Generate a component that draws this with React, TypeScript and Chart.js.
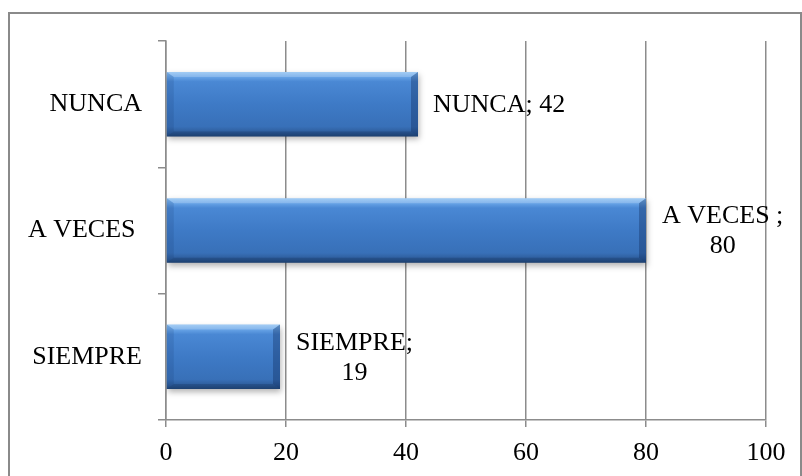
import React, { useEffect, useRef } from "react";
import { Chart, registerables } from "chart.js";

Chart.register(...registerables);

const CATEGORIES = ["NUNCA", "A VECES ", "SIEMPRE"];
const VALUES = [42, 80, 19];
const X_MIN = 0;
const X_MAX = 100;
const X_STEP = 20;

const FONT_FAMILY = "'Liberation Serif', 'Times New Roman', Times, serif";
const FONT_SIZE = 26;
const BAR_PCT = 0.51;
const GRID = "#8c8c8c";

function wrapText(ctx: CanvasRenderingContext2D, text: string, maxW: number): string[] {
  const words = text.split(" ");
  const lines: string[] = [];
  let cur = "";
  for (const w of words) {
    const test = cur ? cur + " " + w : w;
    if (cur && ctx.measureText(test).width > maxW) {
      lines.push(cur);
      cur = w;
    } else cur = test;
  }
  if (cur) lines.push(cur);
  return lines;
}

const bevelPlugin = {
  id: "bevel",
  beforeDatasetsDraw(chart: any) {
    const ctx = chart.ctx;
    ctx.save();
    ctx.shadowColor = "rgba(0,0,0,0.3)";
    ctx.shadowBlur = 6;
    ctx.shadowOffsetX = 1;
    ctx.shadowOffsetY = 3;
  },
  afterDatasetsDraw(chart: any) {
    const ctx = chart.ctx;
    ctx.restore();
    const meta = chart.getDatasetMeta(0);
    meta.data.forEach((bar: any, i: number) => {
      const x = bar.x;
      const base = bar.base;
      const y0 = bar.y - bar.height / 2;
      const y1 = bar.y + bar.height / 2;
      const b = 7;
      const d = 5;
      ctx.save();
      // top bevel
      ctx.beginPath();
      ctx.moveTo(base, y0);
      ctx.lineTo(x, y0);
      ctx.lineTo(x - b, y0 + d);
      ctx.lineTo(base + b, y0 + d);
      ctx.closePath();
      ctx.fillStyle = "rgba(255,255,255,0.2)";
      ctx.fill();
      // bottom bevel
      ctx.beginPath();
      ctx.moveTo(base, y1);
      ctx.lineTo(x, y1);
      ctx.lineTo(x - b, y1 - d);
      ctx.lineTo(base + b, y1 - d);
      ctx.closePath();
      ctx.fillStyle = "rgba(10,30,70,0.22)";
      ctx.fill();
      // right bevel
      ctx.beginPath();
      ctx.moveTo(x, y0);
      ctx.lineTo(x, y1);
      ctx.lineTo(x - b, y1 - d);
      ctx.lineTo(x - b, y0 + d);
      ctx.closePath();
      ctx.fillStyle = "rgba(10,35,80,0.32)";
      ctx.fill();
      // left bevel
      ctx.beginPath();
      ctx.moveTo(base, y0);
      ctx.lineTo(base, y1);
      ctx.lineTo(base + b, y1 - d);
      ctx.lineTo(base + b, y0 + d);
      ctx.closePath();
      ctx.fillStyle = "rgba(10,35,80,0.12)";
      ctx.fill();
      ctx.restore();

      // data label
      ctx.save();
      ctx.font = `${FONT_SIZE}px ${FONT_FAMILY}`;
      ctx.fillStyle = "#000";
      ctx.textBaseline = "middle";
      const text = `${CATEGORIES[i]}; ${VALUES[i]}`;
      const lines = wrapText(ctx, text, 140);
      const lh = 30;
      if (lines.length === 1) {
        ctx.textAlign = "left";
        ctx.fillText(lines[0], x + 15, bar.y + 1);
      } else {
        const bw = Math.max(...lines.map((l) => ctx.measureText(l).width));
        const cx = x + 16 + bw / 2;
        ctx.textAlign = "center";
        const startY = bar.y + 1 - ((lines.length - 1) * lh) / 2;
        lines.forEach((l, k) => ctx.fillText(l, cx, startY + k * lh));
      }
      ctx.restore();
    });
  },
};

export default function App() {
  const ref = useRef<HTMLCanvasElement | null>(null);
  useEffect(() => {
    if (!ref.current) return;
    const chart = new Chart(ref.current, {
      type: "bar",
      data: {
        labels: CATEGORIES,
        datasets: [
          {
            data: VALUES,
            backgroundColor: (c: any) => {
              const chart = c.chart;
              const sy = chart.scales && chart.scales.y;
              if (!sy || !chart.chartArea || c.dataIndex === undefined) return "#3d78c4";
              const yc = sy.getPixelForValue(c.dataIndex);
              const half = (sy.height / CATEGORIES.length) * BAR_PCT / 2;
              const g = chart.ctx.createLinearGradient(0, yc - half, 0, yc + half);
              g.addColorStop(0, "#8cc0f2");
              g.addColorStop(0.07, "#6aa6e8");
              g.addColorStop(0.15, "#4a88d4");
              g.addColorStop(0.5, "#3e7ac6");
              g.addColorStop(0.85, "#3870b8");
              g.addColorStop(0.94, "#2d5c9a");
              g.addColorStop(1, "#234a7c");
              return g;
            },
            borderWidth: 0,
            barPercentage: BAR_PCT,
            categoryPercentage: 1,
          },
        ],
      },
      options: {
        indexAxis: "y",
        animation: false,
        responsive: false,
        maintainAspectRatio: false,
        layout: { padding: { left: 0, top: 41, right: 36, bottom: 0 } },
        plugins: { legend: { display: false }, tooltip: { enabled: false } },
        scales: {
          x: {
            min: X_MIN,
            max: X_MAX,
            ticks: {
              stepSize: X_STEP,
              color: "#000",
              font: { family: FONT_FAMILY, size: FONT_SIZE },
              padding: 11,
            },
            grid: { color: GRID, lineWidth: 1.5, tickLength: 7, drawOnChartArea: true },
            border: { color: GRID, width: 1.5 },
            afterFit: (s: any) => {
              s.height = 56;
            },
          },
          y: {
            ticks: {
              color: "#000",
              font: { family: FONT_FAMILY, size: FONT_SIZE },
              padding: 16,
            },
            grid: { color: GRID, lineWidth: 1.5, tickLength: 8, drawOnChartArea: false, offset: true },
            border: { color: GRID, width: 1.5 },
            afterFit: (s: any) => {
              s.width = 166;
            },
          },
        },
      },
      plugins: [bevelPlugin],
    } as any);
    return () => chart.destroy();
  }, []);

  return (
    <>
      <div
        style={{
          position: "fixed",
          left: 8,
          top: 12,
          width: 794,
          height: 480,
          boxSizing: "border-box",
          border: "2px solid #8a8a8a",
          background: "#fff",
        }}
      />
      <canvas
        ref={ref}
        width={802}
        height={476}
        style={{ position: "fixed", left: 0, top: 0, width: 802, height: 476 }}
      />
    </>
  );
}
